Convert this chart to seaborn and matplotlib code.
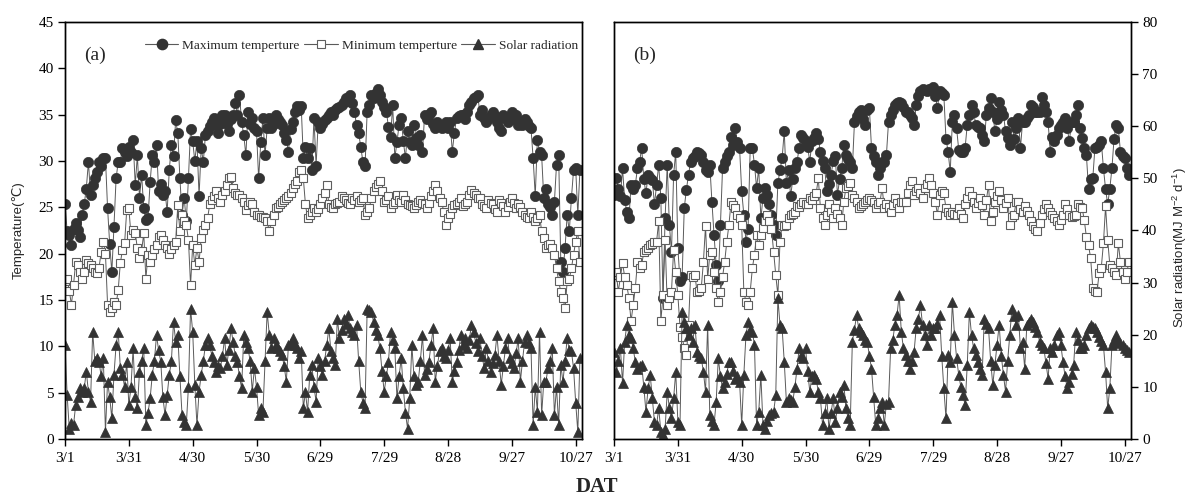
import numpy as np
import matplotlib
matplotlib.use("Agg")
import matplotlib.pyplot as plt
import seaborn as sns
from matplotlib.lines import Line2D

tick_days = [0, 30, 60, 90, 120, 150, 180, 210, 240]
tick_labels = ["3/1", "3/31", "4/30", "5/30", "6/29", "7/29", "8/28", "9/27", "10/27"]
series_names = ["Maximum temperture", "Minimum temperture", "Solar radiation"]

# ---------------- Panel (a) ----------------
max_a = [25.4, 22.4, 22.0, 20.9, 22.7, 23.3, 22.5, 21.8, 24.2, 25.3,
         27.0, 29.9, 26.3, 27.4, 28.2, 28.8, 29.9, 29.5, 30.3, 30.3,
         24.9, 21.0, 18.0, 22.9, 28.1, 29.9, 29.9, 31.4, 31.0, 30.5,
         31.5, 31.0, 32.3, 27.4, 30.6, 26.0, 28.5, 24.9, 23.6, 23.8,
         27.7, 30.6, 29.9, 31.7, 26.7, 27.5, 26.3, 26.7, 24.5, 29.0,
         31.7, 30.5, 34.4, 33.0, 28.1, 24.2, 26.0, 23.5, 28.1, 33.4,
         32.1, 30.0, 32.1, 26.2, 31.4, 29.9, 32.8, 33.2, 33.8, 34.2,
         34.6, 33.9, 33.0, 34.0, 35.0, 35.0, 34.0, 33.2, 34.5, 35.0,
         36.2, 35.0, 37.1, 34.2, 32.8, 30.6, 35.3, 34.0, 34.6, 33.5,
         33.2, 28.1, 32.0, 34.6, 30.6, 33.5, 34.6, 33.5, 34.0, 35.0,
         34.5, 34.2, 33.9, 33.0, 32.3, 31.0, 33.4, 34.2, 35.3, 35.9,
         35.5, 35.9, 30.3, 31.5, 30.3, 31.4, 29.0, 34.6, 29.5, 34.2,
         33.5, 34.0, 34.4, 34.6, 35.0, 35.3, 35.0, 35.5, 35.7, 35.8,
         36.0, 36.4, 36.8, 36.5, 37.1, 36.2, 35.3, 33.9, 33.0, 31.5,
         29.9, 29.4, 35.3, 36.0, 37.1, 36.8, 37.3, 37.8, 37.1, 36.4,
         35.8, 35.3, 33.7, 32.6, 36.0, 30.3, 32.0, 33.9, 34.6, 32.1,
         30.3, 33.2, 32.0, 31.7, 33.9, 32.5, 31.7, 32.8, 31.0, 35.0,
         34.5, 35.0, 35.3, 34.0, 33.5, 34.2, 33.9, 33.5, 33.8, 34.2,
         33.5, 34.2, 31.0, 33.0, 34.6, 34.8, 35.0, 35.0, 34.5, 35.3,
         36.0, 36.4, 36.8, 36.9, 37.1, 35.0, 35.5, 34.6, 34.2, 34.5,
         35.0, 35.3, 34.8, 34.2, 33.5, 33.2, 35.0, 34.6, 34.2, 34.8,
         35.3, 34.5, 35.0, 33.9, 34.2, 33.9, 34.5, 34.2, 33.8, 33.5,
         30.3, 26.2, 32.3, 31.0, 30.6, 26.0, 27.0, 25.4, 25.0, 24.2,
         25.6, 29.6, 30.6, 19.1, 18.0, 20.6, 24.2, 22.4, 26.0, 29.0,
         29.2, 24.2, 29.0]

min_a = [17.0, 17.3, 16.0, 14.5, 16.6, 19.1, 18.8, 18.0, 17.3, 18.0,
         19.3, 19.0, 18.8, 18.4, 18.0, 17.9, 18.5, 20.2, 21.3, 20.0,
         14.5, 13.7, 14.1, 14.8, 14.5, 16.1, 19.0, 20.4, 21.1, 24.7,
         24.9, 22.0, 22.5, 22.2, 20.6, 19.5, 20.3, 22.2, 17.3, 19.9,
         19.1, 19.9, 20.5, 20.9, 21.8, 22.0, 21.5, 20.9, 20.6, 20.0,
         20.5, 20.9, 21.3, 25.2, 22.4, 24.2, 23.5, 23.1, 21.5, 16.6,
         20.9, 18.8, 20.6, 19.1, 21.7, 22.5, 23.1, 23.8, 25.3, 25.8,
         26.2, 26.7, 26.0, 25.6, 26.3, 26.8, 27.4, 28.1, 28.3, 27.1,
         26.5, 26.3, 26.3, 26.0, 25.6, 24.7, 25.2, 25.6, 25.3, 24.5,
         24.2, 24.2, 24.0, 24.0, 23.8, 23.5, 22.4, 23.5, 24.2, 24.9,
         25.0, 25.3, 25.6, 25.8, 26.0, 26.2, 26.5, 27.1, 27.5, 27.8,
         28.8, 29.0, 28.1, 25.3, 23.8, 24.2, 24.5, 24.9, 24.5, 24.8,
         25.3, 26.0, 26.5, 27.4, 25.3, 25.0, 24.9, 25.3, 25.5, 25.6,
         26.2, 26.0, 25.8, 25.5, 25.3, 26.0, 25.8, 26.2, 25.6, 25.8,
         26.0, 24.2, 24.5, 24.9, 26.0, 26.7, 27.2, 27.5, 27.8, 26.7,
         25.6, 25.8, 26.2, 24.9, 25.3, 25.6, 26.3, 25.8, 25.6, 26.3,
         25.8, 25.4, 25.2, 25.1, 24.9, 25.2, 25.6, 25.8, 25.5, 25.3,
         24.9, 25.5, 26.2, 26.8, 27.4, 26.7, 26.0, 25.6, 24.5, 23.1,
         23.8, 24.3, 24.9, 25.2, 25.4, 25.6, 26.0, 25.1, 25.3, 25.6,
         26.3, 26.9, 26.5, 26.3, 26.0, 26.0, 25.4, 25.1, 24.9, 25.8,
         25.5, 25.3, 24.8, 24.5, 25.8, 25.5, 25.1, 24.5, 25.0, 25.6,
         26.0, 25.5, 24.9, 25.3, 25.0, 24.5, 24.2, 24.0, 23.8, 24.5,
         24.0, 23.5, 23.8, 24.2, 22.4, 21.7, 20.6, 20.9, 21.0, 20.6,
         19.9, 18.4, 17.0, 15.9, 15.2, 14.1, 17.0, 17.3, 18.4, 19.9,
         21.3, 22.4, 19.1]

solar_a = [18.0, 8.4, 2.0, 3.0, 2.7, 6.5, 8.0, 9.7, 9.0, 9.7,
           12.9, 9.1, 7.2, 20.6, 15.0, 15.5, 14.8, 12.0, 15.5, 1.4,
           11.0, 8.0, 4.0, 12.3, 18.0, 20.6, 13.6, 12.3, 10.0, 14.8,
           6.5, 10.0, 17.4, 8.0, 5.9, 12.9, 15.0, 17.4, 2.7, 5.0,
           7.8, 12.3, 15.0, 19.9, 17.0, 14.8, 8.0, 4.6, 8.4, 12.3,
           15.0, 22.5, 18.7, 19.9, 12.0, 4.6, 3.3, 2.7, 10.0, 25.0,
           20.6, 10.4, 2.7, 9.1, 12.3, 15.0, 18.0, 19.3, 18.0, 16.0,
           14.8, 12.9, 14.0, 13.6, 16.0, 19.3, 14.2, 17.0, 21.2, 18.7,
           16.0, 14.8, 12.0, 9.7, 19.9, 18.7, 17.4, 15.0, 9.1, 13.6,
           10.0, 4.6, 6.0, 5.2, 15.0, 24.4, 20.0, 17.4, 19.3, 18.0,
           17.4, 16.8, 16.1, 14.0, 11.0, 18.0, 18.5, 19.3, 18.0, 17.4,
           15.5, 16.8, 5.9, 9.0, 5.2, 12.3, 14.2, 10.0, 7.2, 15.5,
           14.0, 12.3, 15.0, 18.0, 21.2, 16.8, 15.5, 14.2, 23.1, 19.3,
           21.0, 23.1, 22.0, 23.8, 21.2, 20.5, 19.9, 21.9, 15.0, 9.1,
           7.0, 5.9, 25.0, 24.7, 24.4, 22.5, 21.0, 19.9, 17.4, 13.0,
           9.1, 12.0, 14.8, 20.6, 19.0, 17.4, 7.8, 12.0, 15.5, 9.7,
           5.0, 2.0, 7.8, 18.0, 12.0, 10.4, 11.0, 15.0, 19.9, 12.3,
           13.5, 14.8, 18.0, 21.2, 11.0, 14.0, 16.8, 17.4, 16.0, 15.5,
           17.0, 19.3, 11.0, 13.0, 14.8, 17.0, 19.9, 18.0, 19.3, 17.4,
           19.0, 21.9, 20.6, 18.5, 16.8, 19.3, 16.0, 13.6, 17.4, 15.0,
           12.9, 14.5, 16.1, 19.9, 15.0, 10.4, 14.0, 17.4, 19.3, 15.5,
           14.5, 13.6, 16.5, 19.3, 11.0, 15.0, 18.7, 19.9, 18.5, 17.4,
           2.7, 10.0, 5.2, 20.6, 4.6, 11.0, 11.0, 13.6, 15.0, 17.4,
           4.6, 10.0, 2.7, 14.2, 11.0, 15.0, 19.3, 17.0, 16.8, 13.6,
           7.0, 1.4, 15.5]

# ---------------- Panel (b) ----------------
max_b = [26.3, 28.1, 27.0, 26.2, 29.2, 25.8, 24.5, 23.8, 27.4, 27.0,
         27.4, 29.2, 29.9, 31.4, 28.0, 26.5, 28.5, 28.1, 27.9, 25.3,
         27.4, 29.6, 26.0, 15.2, 23.8, 29.6, 23.1, 20.2, 28.5, 31.0,
         20.6, 17.0, 17.5, 24.9, 26.9, 28.5, 29.9, 30.3, 30.5, 31.0,
         30.8, 30.6, 29.9, 29.0, 28.8, 29.6, 25.6, 22.0, 18.8, 17.0,
         23.1, 29.2, 29.9, 30.5, 31.0, 32.6, 31.7, 33.5, 32.0, 31.4,
         26.7, 24.2, 21.3, 22.7, 31.4, 31.4, 29.6, 27.1, 29.2, 23.8,
         26.0, 27.1, 26.3, 25.3, 24.2, 23.1, 22.0, 27.6, 29.0, 30.3,
         33.2, 27.6, 29.0, 26.2, 28.0, 29.2, 29.9, 31.4, 32.8, 32.5,
         32.1, 31.5, 29.9, 32.1, 32.5, 33.0, 32.4, 31.0, 30.0, 29.2,
         26.7, 27.5, 28.5, 30.0, 30.5, 26.3, 28.0, 29.2, 31.7, 30.6,
         30.2, 29.9, 29.2, 34.2, 34.8, 35.3, 35.5, 34.5, 33.9, 35.5,
         35.7, 31.4, 30.5, 29.9, 28.5, 29.2, 29.9, 29.9, 30.6, 34.2,
         35.0, 35.5, 36.0, 36.2, 36.3, 36.2, 35.8, 35.3, 35.3, 34.9,
         34.6, 33.9, 36.0, 37.0, 37.5, 37.8, 37.6, 37.5, 37.7, 37.8,
         38.0, 37.0, 35.7, 37.5, 37.3, 37.1, 32.4, 31.0, 28.8, 34.2,
         35.0, 33.5, 31.2, 31.0, 31.0, 31.4, 33.9, 35.0, 36.0, 35.3,
         33.9, 33.7, 33.5, 32.8, 32.1, 35.0, 35.7, 36.8, 35.3, 33.2,
         34.5, 36.4, 35.5, 35.0, 33.2, 32.5, 31.7, 34.2, 32.4, 33.5,
         34.6, 31.4, 34.2, 34.2, 34.6, 35.0, 36.0, 35.8, 35.3, 35.3,
         35.3, 36.9, 36.0, 35.3, 34.2, 31.0, 32.6, 32.1, 32.8, 33.5,
         33.9, 34.2, 34.6, 33.5, 32.1, 34.2, 34.2, 35.0, 36.0, 33.5,
         32.5, 31.4, 30.6, 27.0, 28.0, 28.1, 31.4, 31.5, 31.7, 32.1,
         29.2, 27.0, 25.3, 27.0, 29.2, 32.4, 33.9, 33.5, 31.0, 30.5,
         30.3, 29.2, 28.5]

min_b = [17.7, 18.0, 15.9, 17.5, 19.0, 17.5, 16.6, 15.2, 12.7, 14.5,
         16.3, 19.1, 18.5, 18.8, 20.2, 20.4, 20.6, 20.9, 21.0, 21.3,
         21.3, 23.5, 12.7, 15.5, 21.5, 14.5, 15.2, 15.9, 20.4, 18.0,
         15.5, 12.1, 11.0, 9.8, 9.1, 12.3, 17.7, 17.5, 17.7, 15.9,
         16.0, 16.3, 19.1, 23.0, 17.3, 19.9, 20.2, 18.0, 16.3, 14.8,
         15.9, 17.5, 19.1, 21.3, 23.1, 25.6, 25.2, 24.9, 24.2, 23.8,
         23.1, 15.9, 14.8, 14.5, 15.9, 18.4, 19.9, 22.0, 20.9, 22.0,
         22.8, 23.5, 24.2, 23.5, 22.7, 20.2, 17.7, 15.5, 21.3, 23.1,
         23.0, 23.1, 23.8, 24.2, 24.3, 24.5, 25.1, 25.0, 25.3, 25.6,
         25.4, 25.4, 26.0, 25.8, 26.2, 26.5, 28.1, 24.9, 23.8, 23.1,
         24.2, 25.3, 24.5, 23.8, 24.9, 24.3, 23.8, 23.1, 25.6, 27.1,
         27.3, 27.6, 26.3, 26.0, 25.6, 24.9, 25.1, 25.3, 25.6, 25.8,
         26.0, 25.8, 25.6, 24.9, 25.3, 25.6, 27.1, 24.9, 25.3, 25.0,
         24.5, 25.2, 26.0, 25.5, 24.9, 25.6, 25.6, 25.6, 26.5, 27.4,
         27.8, 26.3, 26.8, 27.1, 26.5, 26.0, 27.1, 27.5, 28.1, 27.4,
         26.5, 25.6, 24.2, 26.3, 26.7, 26.5, 24.9, 24.5, 24.2, 24.5,
         24.3, 24.2, 24.9, 24.3, 23.8, 25.3, 26.0, 26.7, 26.2, 25.6,
         24.9, 25.5, 26.0, 25.2, 24.2, 25.8, 27.4, 23.5, 24.5, 25.6,
         26.2, 26.7, 25.8, 24.9, 25.5, 26.0, 23.1, 24.0, 24.2, 25.6,
         25.6, 24.8, 24.5, 25.1, 24.6, 24.2, 23.5, 23.0, 22.7, 22.4,
         23.3, 24.2, 24.8, 25.3, 24.9, 24.5, 24.2, 23.8, 23.5, 23.1,
         23.6, 24.2, 25.4, 24.8, 24.2, 24.0, 24.1, 24.2, 25.4, 25.0,
         24.9, 23.6, 21.8, 20.9, 19.5, 16.3, 16.0, 15.9, 17.9, 18.5,
         21.1, 25.1, 21.5, 18.8, 18.4, 18.0, 17.7, 21.1, 19.1, 18.0,
         17.3, 18.0, 19.1]

solar_b = [16.7, 12.9, 15.0, 17.4, 10.7, 18.7, 21.9, 19.9, 19.3, 17.4,
           14.8, 13.5, 14.0, 14.2, 10.0, 5.2, 9.7, 12.3, 7.8, 3.3,
           2.7, 5.9, 1.4, 0.8, 2.0, 9.1, 6.0, 4.0, 7.8, 12.9,
           3.3, 2.7, 24.4, 22.5, 21.2, 20.0, 21.2, 18.7, 21.9, 16.7,
           16.0, 15.5, 12.9, 9.1, 21.9, 4.6, 3.5, 2.7, 7.2, 15.5,
           12.0, 9.7, 11.0, 12.5, 14.8, 14.8, 13.0, 11.6, 12.0, 11.0,
           2.7, 12.3, 19.9, 22.5, 21.0, 20.6, 18.0, 2.7, 5.2, 12.3,
           2.7, 2.0, 3.5, 4.6, 5.0, 5.2, 8.4, 27.0, 21.9, 21.2,
           14.8, 7.2, 7.8, 7.5, 7.2, 10.0, 13.5, 17.4, 16.0, 15.5,
           17.4, 13.0, 9.1, 12.0, 12.3, 11.6, 9.0, 7.8, 2.7, 5.0,
           7.8, 2.0, 5.0, 7.8, 3.3, 6.0, 9.1, 8.0, 10.4, 5.9,
           4.0, 2.7, 18.7, 21.0, 23.8, 21.2, 20.5, 19.9, 19.0, 18.7,
           16.0, 13.5, 8.0, 2.7, 4.0, 5.9, 7.2, 2.7, 6.8, 7.2,
           17.4, 19.0, 21.9, 23.8, 27.6, 20.6, 17.4, 16.1, 15.0, 13.5,
           15.0, 16.7, 21.2, 23.0, 25.7, 21.9, 20.0, 18.0, 21.9, 20.0,
           21.2, 21.2, 22.0, 23.8, 16.0, 9.7, 4.0, 16.1, 14.8, 26.3,
           20.0, 15.5, 12.3, 10.0, 8.4, 6.5, 14.2, 24.4, 20.0, 17.4,
           16.1, 14.8, 13.5, 12.3, 23.1, 22.0, 21.2, 15.0, 10.4, 14.2,
           18.0, 21.9, 16.0, 12.3, 9.1, 15.0, 19.9, 25.0, 23.5, 21.9,
           23.8, 17.4, 18.7, 13.5, 21.9, 22.5, 23.1, 22.5, 21.5, 20.6,
           18.7, 18.0, 17.4, 14.5, 11.6, 17.4, 16.7, 18.0, 19.9, 20.6,
           18.0, 14.8, 12.0, 9.7, 11.0, 12.5, 14.2, 20.6, 19.0, 17.4,
           17.5, 18.0, 20.0, 21.2, 21.9, 21.5, 21.2, 20.6, 19.5, 18.8,
           18.0, 12.9, 5.9, 9.7, 18.0, 19.0, 19.9, 18.7, 18.5, 18.0,
           17.4, 17.0, 16.7]

# ---------------- styling ----------------
sns.set_theme(style="ticks")
plt.rcParams['font.family'] = ['Liberation Serif', 'DejaVu Serif']
plt.rcParams['mathtext.fontset'] = 'custom'
plt.rcParams['mathtext.rm'] = 'Liberation Sans'

DARK = '#333333'
LINE = '#5a5a5a'
SQ_EDGE = '#5e5e5e'

fig = plt.figure(figsize=(11.93, 4.95), dpi=100)
axA = fig.add_axes([0.0545, 0.113, 0.4334, 0.843])
axB = fig.add_axes([0.5147, 0.113, 0.4334, 0.843])


def draw(ax, tmax, tmin, srad):
    ax2 = ax.twinx()
    sns.lineplot(x=np.arange(len(tmax)), y=tmax, ax=ax, color=LINE, lw=0.7,
                 marker='o', markersize=7.4, markerfacecolor=DARK,
                 markeredgecolor=DARK, markeredgewidth=0.5)
    sns.lineplot(x=np.arange(len(tmin)), y=tmin, ax=ax, color=LINE, lw=0.7,
                 marker='s', markersize=5.3, markerfacecolor='white',
                 markeredgecolor=SQ_EDGE, markeredgewidth=0.8)
    sns.lineplot(x=np.arange(len(srad)), y=srad, ax=ax2, color=LINE, lw=0.7,
                 marker='^', markersize=7.2, markerfacecolor=DARK,
                 markeredgecolor=DARK, markeredgewidth=0.5)
    ax.set_xlim(0, 243)
    ax.set_ylim(0, 45)
    ax2.set_ylim(0, 80)
    ax.set_xticks(tick_days)
    ax.set_xticklabels(tick_labels)
    ax.set_yticks(np.arange(0, 46, 5))
    ax2.set_yticks(np.arange(0, 81, 10))
    ax.set_xlabel('')
    ax.set_ylabel('')
    ax2.set_ylabel('')
    for a in (ax, ax2):
        for s in a.spines.values():
            s.set_color('black')
            s.set_linewidth(1.0)
    ax.tick_params(axis='x', bottom=True, top=False, direction='out', length=5,
                   width=1, labelsize=11, colors='black', pad=4)
    return ax2


axA2 = draw(axA, max_a, min_a, solar_a)
axB2 = draw(axB, max_b, min_b, solar_b)

axA.tick_params(axis='y', left=True, right=False, labelleft=True, direction='out',
                length=5, width=1, labelsize=11, colors='black', pad=3)
axA2.tick_params(axis='y', right=False, labelright=False, left=False)
axB.tick_params(axis='y', left=False, labelleft=False, right=False)
axB2.tick_params(axis='y', right=True, labelright=True, left=False, direction='out',
                 length=5, width=1, labelsize=11, colors='black', pad=3)

axA.text(0.058, 0.92, '(a)', transform=axA.transAxes, fontsize=14,
         ha='center', va='center')
axB.text(0.06, 0.92, '(b)', transform=axB.transAxes, fontsize=14,
         ha='center', va='center')

handles = [
    Line2D([], [], color=LINE, lw=0.8, marker='o', ms=7.4, mfc=DARK, mec=DARK),
    Line2D([], [], color=LINE, lw=0.8, marker='s', ms=5.3, mfc='white', mec=SQ_EDGE, mew=0.8),
    Line2D([], [], color=LINE, lw=0.8, marker='^', ms=7.2, mfc=DARK, mec=DARK),
]
leg = axA.legend(handles, series_names, loc='center right', bbox_to_anchor=(1.0, 0.942),
                 ncol=3, frameon=False, fontsize=9.6, handlelength=2.5,
                 handletextpad=0.3, columnspacing=0.35, borderaxespad=0.2,
                 borderpad=0.1, numpoints=1)
axA2.set_zorder(axA.zorder + 1)

fig.text(0.015, 0.535, 'Temperature(℃)', rotation=90, ha='center', va='center',
         fontsize=9.5, family=['Liberation Sans', 'DejaVu Sans'])
fig.text(0.989, 0.5, 'Solar radiation(MJ M$^{-2}$ d$^{-1}$)', rotation=90,
         ha='center', va='center', fontsize=9.5, family=['Liberation Sans', 'DejaVu Sans'])
fig.text(0.5, 0.017, 'DAT', ha='center', va='center', fontsize=15, fontweight='bold')

fig.savefig('out.png', dpi=100)
